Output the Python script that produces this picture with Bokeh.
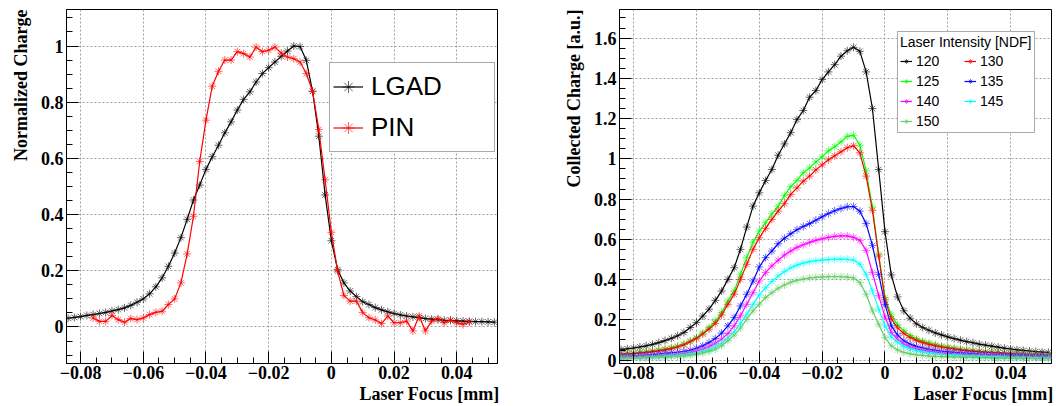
import numpy as np
from bokeh.plotting import figure
from bokeh.layouts import row
from bokeh.models import Range1d, FixedTicker, Title, Legend, LegendItem
from bokeh.embed import file_html
from bokeh.resources import INLINE

# ---------------- data ----------------
x_scan = [-0.084, -0.082, -0.080, -0.078, -0.076, -0.074, -0.072, -0.070, -0.068, -0.066,
          -0.064, -0.062, -0.060, -0.058, -0.056, -0.054, -0.052, -0.050, -0.048, -0.046,
          -0.044, -0.042, -0.040, -0.038, -0.036, -0.034, -0.032, -0.030, -0.028, -0.026,
          -0.024, -0.022, -0.020, -0.018, -0.016, -0.014, -0.012, -0.010, -0.008, -0.006,
          -0.004, -0.002, 0.000, 0.002, 0.004, 0.006, 0.008, 0.010, 0.012, 0.014,
          0.016, 0.018, 0.020, 0.022, 0.024, 0.026, 0.028, 0.030, 0.032, 0.034,
          0.036, 0.038, 0.040, 0.042, 0.044, 0.046, 0.048, 0.050, 0.052]

x_pin = [-0.076, -0.074, -0.072, -0.070, -0.068, -0.066, -0.064, -0.062, -0.060, -0.058,
         -0.056, -0.054, -0.052, -0.050, -0.048, -0.046, -0.044, -0.042, -0.040, -0.038,
         -0.036, -0.034, -0.032, -0.030, -0.028, -0.026, -0.024, -0.022, -0.020, -0.018,
         -0.016, -0.014, -0.012, -0.010, -0.008, -0.006, -0.004, -0.002, 0.000, 0.002,
         0.004, 0.006, 0.008, 0.010, 0.012, 0.014, 0.016, 0.018, 0.020, 0.022,
         0.024, 0.026, 0.028, 0.030, 0.032, 0.034, 0.036, 0.038, 0.040, 0.042,
         0.044]

lgad_norm = [0.031, 0.034, 0.037, 0.041, 0.044, 0.048, 0.052, 0.057, 0.062, 0.068,
             0.077, 0.088, 0.100, 0.118, 0.143, 0.175, 0.216, 0.263, 0.318, 0.383,
             0.452, 0.505, 0.561, 0.606, 0.647, 0.691, 0.730, 0.772, 0.810, 0.837,
             0.872, 0.902, 0.923, 0.943, 0.963, 0.982, 1.000, 0.998, 0.949, 0.839,
             0.679, 0.470, 0.307, 0.204, 0.157, 0.128, 0.108, 0.090, 0.080, 0.069,
             0.061, 0.054, 0.048, 0.043, 0.039, 0.036, 0.033, 0.030, 0.028, 0.026,
             0.024, 0.023, 0.022, 0.021, 0.020, 0.019, 0.019, 0.018, 0.017]

pin_norm = [0.032, 0.020, 0.020, 0.041, 0.026, 0.017, 0.030, 0.026, 0.032, 0.044,
            0.052, 0.056, 0.080, 0.100, 0.157, 0.260, 0.394, 0.589, 0.736, 0.857,
            0.910, 0.950, 0.950, 0.980, 0.973, 0.961, 0.996, 0.980, 0.985, 0.996,
            0.975, 0.961, 0.955, 0.943, 0.902, 0.839, 0.703, 0.524, 0.337, 0.199,
            0.112, 0.092, 0.092, 0.051, 0.033, 0.025, 0.012, 0.039, 0.015, 0.015,
            0.021, -0.014, 0.039, -0.014, 0.021, 0.030, 0.015, 0.025, 0.015, 0.009,
            0.018]

ndf_labels = ["120", "125", "130", "135", "140", "145", "150"]

q120 = [0.053, 0.056, 0.060, 0.065, 0.071, 0.078, 0.087, 0.097, 0.108, 0.121,
        0.137, 0.162, 0.186, 0.219, 0.253, 0.297, 0.343, 0.401, 0.459, 0.550,
        0.661, 0.765, 0.831, 0.892, 0.947, 1.018, 1.074, 1.130, 1.195, 1.240,
        1.306, 1.339, 1.394, 1.432, 1.468, 1.510, 1.537, 1.554, 1.534, 1.432,
        1.250, 0.947, 0.638, 0.423, 0.314, 0.245, 0.208, 0.180, 0.162, 0.148,
        0.135, 0.125, 0.115, 0.107, 0.099, 0.092, 0.086, 0.079, 0.074, 0.069,
        0.064, 0.059, 0.055, 0.051, 0.048, 0.045, 0.042, 0.040, 0.038]

q125 = [0.032, 0.034, 0.036, 0.039, 0.042, 0.046, 0.050, 0.055, 0.061, 0.069,
        0.079, 0.095, 0.112, 0.134, 0.162, 0.195, 0.236, 0.294, 0.344, 0.426,
        0.509, 0.585, 0.641, 0.683, 0.727, 0.765, 0.818, 0.862, 0.893, 0.931,
        0.955, 0.985, 1.010, 1.040, 1.060, 1.085, 1.112, 1.117, 1.068, 0.940,
        0.760, 0.526, 0.310, 0.225, 0.175, 0.145, 0.122, 0.106, 0.094, 0.085,
        0.077, 0.070, 0.064, 0.059, 0.055, 0.051, 0.048, 0.045, 0.042, 0.040,
        0.038, 0.036, 0.034, 0.032, 0.031, 0.029, 0.028, 0.027, 0.026]

q130 = [0.028, 0.030, 0.032, 0.035, 0.038, 0.042, 0.046, 0.051, 0.057, 0.065,
        0.076, 0.091, 0.107, 0.129, 0.154, 0.182, 0.224, 0.277, 0.327, 0.401,
        0.476, 0.550, 0.608, 0.654, 0.699, 0.740, 0.777, 0.823, 0.856, 0.889,
        0.914, 0.945, 0.970, 0.995, 1.015, 1.035, 1.055, 1.065, 1.030, 0.914,
        0.744, 0.517, 0.300, 0.205, 0.160, 0.132, 0.112, 0.098, 0.087, 0.078,
        0.071, 0.065, 0.060, 0.055, 0.051, 0.047, 0.044, 0.041, 0.039, 0.037,
        0.035, 0.033, 0.031, 0.029, 0.028, 0.026, 0.025, 0.024, 0.022]

q135 = [0.018, 0.019, 0.021, 0.023, 0.025, 0.027, 0.030, 0.033, 0.036, 0.039,
        0.043, 0.049, 0.059, 0.071, 0.087, 0.107, 0.134, 0.170, 0.211, 0.269,
        0.327, 0.393, 0.463, 0.509, 0.542, 0.578, 0.605, 0.628, 0.648, 0.664,
        0.678, 0.695, 0.712, 0.728, 0.742, 0.753, 0.762, 0.763, 0.740, 0.678,
        0.570, 0.426, 0.277, 0.170, 0.124, 0.096, 0.079, 0.068, 0.060, 0.053,
        0.048, 0.044, 0.041, 0.038, 0.036, 0.034, 0.032, 0.030, 0.029, 0.027,
        0.026, 0.025, 0.024, 0.023, 0.022, 0.021, 0.020, 0.020, 0.019]

q140 = [0.015, 0.016, 0.017, 0.018, 0.020, 0.021, 0.023, 0.025, 0.027, 0.030,
        0.033, 0.038, 0.046, 0.055, 0.066, 0.083, 0.104, 0.132, 0.170, 0.220,
        0.277, 0.335, 0.393, 0.435, 0.468, 0.496, 0.522, 0.542, 0.560, 0.573,
        0.585, 0.595, 0.603, 0.610, 0.615, 0.617, 0.617, 0.610, 0.595, 0.545,
        0.435, 0.320, 0.215, 0.137, 0.104, 0.080, 0.065, 0.056, 0.049, 0.044,
        0.040, 0.037, 0.034, 0.032, 0.030, 0.028, 0.026, 0.025, 0.024, 0.022,
        0.021, 0.020, 0.019, 0.018, 0.017, 0.017, 0.016, 0.015, 0.015]

q145 = [0.010, 0.011, 0.012, 0.013, 0.014, 0.015, 0.017, 0.019, 0.021, 0.023,
        0.026, 0.030, 0.035, 0.043, 0.051, 0.066, 0.084, 0.109, 0.140, 0.182,
        0.228, 0.277, 0.324, 0.360, 0.390, 0.418, 0.440, 0.459, 0.472, 0.482,
        0.489, 0.494, 0.497, 0.499, 0.501, 0.502, 0.501, 0.497, 0.476, 0.426,
        0.344, 0.253, 0.170, 0.116, 0.088, 0.068, 0.056, 0.047, 0.041, 0.036,
        0.032, 0.029, 0.027, 0.025, 0.023, 0.021, 0.020, 0.019, 0.018, 0.017,
        0.016, 0.015, 0.014, 0.014, 0.013, 0.012, 0.012, 0.011, 0.011]

q150 = [0.008, 0.009, 0.010, 0.011, 0.012, 0.013, 0.014, 0.015, 0.017, 0.019,
        0.021, 0.025, 0.028, 0.035, 0.043, 0.054, 0.071, 0.096, 0.124, 0.159,
        0.203, 0.245, 0.278, 0.311, 0.335, 0.357, 0.373, 0.387, 0.396, 0.403,
        0.408, 0.411, 0.413, 0.414, 0.415, 0.414, 0.412, 0.408, 0.385, 0.327,
        0.245, 0.178, 0.112, 0.071, 0.050, 0.038, 0.031, 0.026, 0.023, 0.020,
        0.018, 0.017, 0.016, 0.015, 0.014, 0.013, 0.013, 0.012, 0.012, 0.011,
        0.011, 0.010, 0.010, 0.010, 0.009, 0.009, 0.009, 0.008, 0.008]

x_ticks = [-0.08, -0.06, -0.04, -0.02, 0.0, 0.02, 0.04]
x_tick_labels = ["\u22120.08", "\u22120.06", "\u22120.04", "\u22120.02", "0", "0.02", "0.04"]
yl_ticks = [0.0, 0.2, 0.4, 0.6, 0.8, 1.0]
yl_tick_labels = ["0", "0.2", "0.4", "0.6", "0.8", "1"]
yr_ticks = [0.0, 0.2, 0.4, 0.6, 0.8, 1.0, 1.2, 1.4, 1.6]
yr_tick_labels = ["0", "0.2", "0.4", "0.6", "0.8", "1", "1.2", "1.4", "1.6"]

# ---------------- styling ----------------
SERIF = "Liberation Serif"
SANS = "Liberation Sans"
colors = ["#000000", "#00ff00", "#ff0000", "#0000ff", "#ff00ff", "#00ffff", "#66cc66"]

x_minor = [round(v, 4) for v in np.arange(-0.085, 0.0551, 0.005)]
yl_minor = [round(v, 3) for v in np.arange(-0.15, 1.151, 0.05)]
yr_minor = [round(v, 3) for v in np.arange(-0.05, 1.751, 0.05)]


def style(p, xt, xl, yt, yl, ymin):
    p.xaxis.ticker = FixedTicker(ticks=xt, minor_ticks=x_minor)
    p.yaxis.ticker = FixedTicker(ticks=yt, minor_ticks=ymin)
    p.xgrid.ticker = FixedTicker(ticks=xt)
    p.ygrid.ticker = FixedTicker(ticks=yt)
    p.xaxis.major_label_overrides = dict(zip(xt, xl))
    p.yaxis.major_label_overrides = dict(zip(yt, yl))
    for ax in (p.xaxis[0], p.yaxis[0]):
        ax.major_tick_in = 12
        ax.major_tick_out = 0
        ax.minor_tick_in = 6
        ax.minor_tick_out = 0
        ax.axis_line_color = "black"
        ax.major_tick_line_color = "black"
        ax.minor_tick_line_color = "black"
        ax.major_label_text_font = SERIF
        ax.major_label_text_font_style = "bold"
        ax.major_label_text_font_size = "18px"
        ax.major_label_text_color = "black"
    p.xaxis.major_label_standoff = 2
    p.yaxis.major_label_standoff = 3
    for g in (p.xgrid[0], p.ygrid[0]):
        g.grid_line_color = "#a0a0a0"
        g.grid_line_dash = "2 2"
        g.grid_line_width = 1
    p.outline_line_color = "black"
    p.outline_line_width = 1
    p.outline_line_alpha = 1
    p.background_fill_color = "white"
    p.border_fill_color = "white"


def titles(p, xtitle, ytitle, ystand):
    p.add_layout(Title(text=xtitle, align="right", text_font=SERIF, text_font_style="bold",
                       text_font_size="18px", text_color="black", standoff=0, offset=-2), "below")
    p.add_layout(Title(text=ytitle, align="right", text_font=SERIF, text_font_style="bold",
                       text_font_size="18px", text_color="black", standoff=ystand), "left")


def series(p, x, y, c):
    rl = p.line(x, y, line_color=c, line_width=1.2)
    rm = p.scatter(x, y, marker="asterisk", size=8, line_color=c, line_alpha=0.6, line_width=1)
    return [rl, rm]


# ---------------- left panel ----------------
p1 = figure(width=540, height=406, x_range=Range1d(-0.0845, 0.053), y_range=Range1d(-0.13, 1.13),
            output_backend="svg", toolbar_location=None,
            min_border_left=66, min_border_right=43, min_border_top=9, min_border_bottom=42)
style(p1, x_ticks, x_tick_labels, yl_ticks, yl_tick_labels, yl_minor)
titles(p1, "Laser Focus [mm]", "Normalized Charge", 14)

r_lgad = series(p1, x_scan, lgad_norm, "#000000")
r_pin = series(p1, x_pin, pin_norm, "#ff0000")

leg1 = Legend(items=[LegendItem(label="LGAD", renderers=r_lgad),
                     LegendItem(label="PIN", renderers=r_pin)],
              location=(263, 211), orientation="vertical", padding=3, spacing=0,
              glyph_width=30, glyph_height=41, label_height=41, label_width=120,
              label_standoff=8, label_text_font=SANS, label_text_font_size="26px",
              label_text_color="black",
              border_line_color="#555555", border_line_width=1,
              background_fill_color="white", background_fill_alpha=1)
p1.add_layout(leg1)

# ---------------- right panel ----------------
p2 = figure(width=516, height=406, x_range=Range1d(-0.0845, 0.053), y_range=Range1d(-0.017, 1.742),
            output_backend="svg", toolbar_location=None,
            min_border_left=79, min_border_right=5, min_border_top=8, min_border_bottom=43)
style(p2, x_ticks, x_tick_labels, yr_ticks, yr_tick_labels, yr_minor)
titles(p2, "Laser Focus [mm]", "Collected Charge [a.u.]", 14)

series_vals = [q120, q125, q130, q135, q140, q145, q150]
rends = {}
for lab, vals, c in zip(ndf_labels, series_vals, colors):
    rends[lab] = series(p2, x_scan, vals, c)

legend_order = ["120", "130", "125", "135", "140", "145", "150"]
leg2 = Legend(items=[LegendItem(label=l, renderers=rends[l]) for l in legend_order],
              location=(278, 230), orientation="horizontal", ncols=2,
              title="Laser Intensity [NDF]", title_text_font=SANS, title_text_font_style="normal",
              title_text_font_size="14px", title_text_color="black", title_standoff=2,
              padding=2, spacing=2, glyph_width=12, glyph_height=18, label_height=18,
              label_width=46, label_standoff=4, label_text_font=SANS, label_text_font_size="14px",
              label_text_color="black",
              border_line_color="#555555", border_line_width=1,
              background_fill_color="white", background_fill_alpha=1)
p2.add_layout(leg2)

layout = row(p1, p2)
open("out.html", "w").write(file_html(layout, INLINE))
